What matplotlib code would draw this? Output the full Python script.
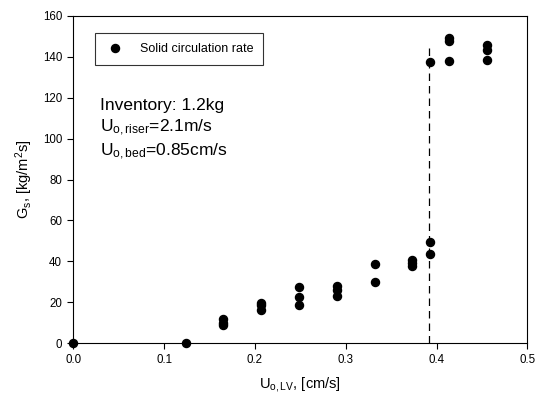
import matplotlib
matplotlib.use("Agg")
import matplotlib.pyplot as plt

plt.rcParams['font.family'] = ['Liberation Sans', 'DejaVu Sans']
plt.rcParams['mathtext.fontset'] = 'custom'
plt.rcParams['mathtext.rm'] = 'Liberation Sans'
plt.rcParams['mathtext.it'] = 'Liberation Sans'

u_lv = [0.0, 0.124, 0.165, 0.165, 0.165, 0.207, 0.207, 0.207,
        0.249, 0.249, 0.249, 0.290, 0.290, 0.290, 0.332, 0.332,
        0.373, 0.373, 0.373, 0.393, 0.393, 0.393,
        0.414, 0.414, 0.414, 0.456, 0.456, 0.456]
gs = [0.0, 0.0, 11.7, 10.1, 8.7, 19.6, 18.6, 16.4,
      27.3, 22.8, 18.9, 28.0, 26.0, 23.0, 38.7, 30.1,
      40.7, 39.2, 37.9, 49.3, 43.8, 137.2,
      149.2, 147.5, 137.7, 145.7, 143.1, 138.3]
transition_x = 0.392
transition_top = 146

fig = plt.figure(figsize=(5.36, 4.01), dpi=100)
ax = fig.add_axes([0.1368, 0.1439, 0.847, 0.8169])

ax.plot([transition_x, transition_x], [0, transition_top], color='black',
        linestyle=(0, (6, 4)), linewidth=0.9, zorder=2)
ax.plot(u_lv, gs, 'o', color='black', markersize=5.8, linestyle='none',
        label='Solid circulation rate', clip_on=False, zorder=3)

ax.set_xlim(0, 0.5)
ax.set_ylim(0, 160)
ax.set_xticks([0.0, 0.1, 0.2, 0.3, 0.4, 0.5])
ax.set_xticklabels(['0.0', '0.1', '0.2', '0.3', '0.4', '0.5'])
ax.set_yticks(range(0, 161, 20))
ax.tick_params(direction='out', length=4, width=0.8, labelsize=8.3, colors='black', pad=4)
for s in ax.spines.values():
    s.set_linewidth(0.8)

ax.set_xlabel(r'U$_\mathregular{o,LV}$, [cm/s]', fontsize=10.5, labelpad=6.5)
ax.set_ylabel(r'G$_\mathregular{s}$, [kg/m$^\mathregular{2}$s]', fontsize=10.5, labelpad=6)

leg = ax.legend(loc='upper left', bbox_to_anchor=(0.033, 0.966), fontsize=9,
                frameon=True, fancybox=False, edgecolor='black',
                handlelength=1.6, handletextpad=1.2, borderpad=0.8, markerscale=1.0)
leg.get_frame().set_linewidth(0.8)

ax.text(0.058, 0.748,
        'Inventory: 1.2kg\n'
        r'U$_\mathregular{o,riser}$=2.1m/s' '\n'
        r'U$_\mathregular{o,bed}$=0.85cm/s',
        transform=ax.transAxes, fontsize=12.5, va='top', ha='left', linespacing=1.3)

fig.savefig('out.png', dpi=100)
